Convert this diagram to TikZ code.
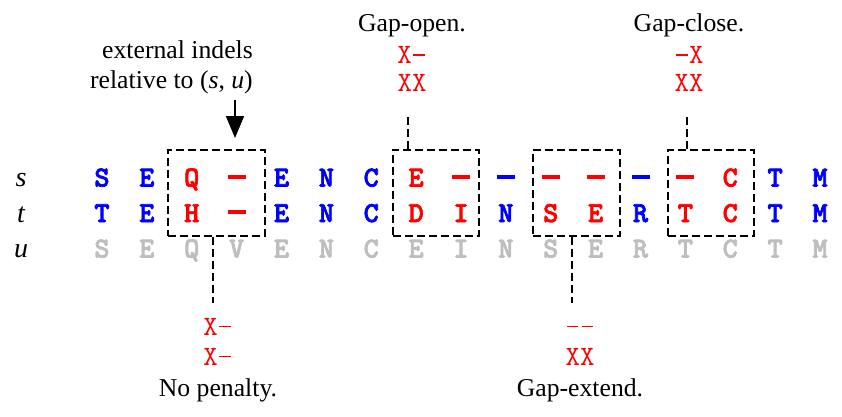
\documentclass[tikz,border=0pt]{standalone}
\usepackage{fontspec}
\setmainfont{Liberation Serif}
\newfontfamily\bmono{lmmonolt10-bold.otf}[FakeBold=2.4]
\newcommand{\seqgap}{\makebox[15.2pt]{\rule[8pt]{18pt}{3.8pt}}}
\newcommand{\pengap}{\makebox[14.7pt]{\rule[7.6pt]{11.5pt}{1.3pt}}}
\usetikzlibrary{arrows.meta}
\definecolor{seqblue}{RGB}{0,0,255}
\definecolor{seqred}{RGB}{255,0,0}
\definecolor{seqgray}{RGB}{190,190,190}
\begin{document}
\begin{tikzpicture}[x=1pt,y=-1pt,
  letter/.style={font=\bmono\fontsize{29}{29}\selectfont, inner sep=0pt, anchor=base},
  lb/.style={letter,text=seqblue},
  lr/.style={letter,text=seqred},
  lg/.style={letter,text=seqgray},
  rowlab/.style={font=\fontsize{28}{28}\selectfont\itshape, inner sep=0pt, anchor=base},
  penal/.style={font=\ttfamily\fontsize{28}{28}\selectfont, text=seqred, inner sep=0pt, anchor=base},
  caption/.style={font=\fontsize{25.7}{25.7}\selectfont, inner sep=0pt, anchor=base},
  dbox/.style={draw, dash pattern=on 8pt off 4pt, line width=2pt, inner sep=0pt},
  dline/.style={draw, dash pattern=on 8pt off 4pt, line width=2pt}]
\useasboundingbox (0,0) rectangle (842,416);
% row labels
\node[rowlab] (ls) at (21,186.5) {s};
\node[rowlab] (lt) at (21,222) {t};
\node[rowlab] (lu) at (21,257.5) {u};
% rows
\foreach \c/\st [count=\i from 0] in {S/lb,E/lb,Q/lr,\seqgap/lr,E/lb,N/lb,C/lb,E/lr,\seqgap/lr,\seqgap/lb,\seqgap/lr,\seqgap/lr,\seqgap/lb,\seqgap/lr,C/lr,T/lb,M/lb}{
  \pgfmathsetmacro\xx{102+44.875*\i}
  \node[\st] (s\i) at (\xx,186.5) {\c};
}
\foreach \c/\st [count=\i from 0] in {T/lb,E/lb,H/lr,\seqgap/lr,E/lb,N/lb,C/lb,D/lr,I/lr,N/lb,S/lr,E/lr,R/lb,T/lr,C/lr,T/lb,M/lb}{
  \pgfmathsetmacro\xx{102+44.875*\i}
  \node[\st] (t\i) at (\xx,222) {\c};
}
\foreach \c [count=\i from 0] in {S,E,Q,V,E,N,C,E,I,N,S,E,R,T,C,T,M}{
  \pgfmathsetmacro\xx{102+44.875*\i}
  \node[lg] (u\i) at (\xx,257.5) {\c};
}
% boxes
\node[dbox, minimum width=97pt, minimum height=86pt] (box1) at (216.5,192.5) {};
\node[dbox, minimum width=86.3pt, minimum height=86pt] (box2) at (435.85,192.5) {};
\node[dbox, minimum width=87pt, minimum height=86pt] (box3) at (576.5,192.5) {};
\node[dbox, minimum width=86pt, minimum height=86pt] (box4) at (711,192.5) {};
% external indels
\node[caption, anchor=base east] (ext1) at (253,58) {external indels};
\node[caption, anchor=base east] (ext2) at (253,88) {relative to (\textit{s}, \textit{u})};
\coordinate (arrtail) at (235,100);
\coordinate (arrtip) at (235,138);
\draw[line width=1.8pt, -{Triangle[width=18pt,length=22pt]}] (arrtail) -- (arrtip);
% gap-open
\node[caption] (goc) at (412,31) {Gap-open.};
\node[penal] (go1) at (412,63.3) {X\pengap};
\node[penal] (go2) at (412,91.7) {XX};
\coordinate (goe) at (408,113);
\draw[dline] (goe |- box2.north) -- (goe);
% gap-close
\node[caption] (gcc) at (689,31) {Gap-close.};
\node[penal] (gc1) at (689,63.3) {\pengap X};
\node[penal] (gc2) at (689,91.7) {XX};
\coordinate (gce) at (687,113);
\draw[dline] (gce |- box4.north) -- (gce);
% no penalty
\coordinate (npe) at (212.7,303);
\draw[dline] (npe |- box1.south) -- (npe);
\node[penal] (np1) at (218,335) {X\pengap};
\node[penal] (np2) at (218,365) {X\pengap};
\node[caption] (npc) at (218,396.7) {No penalty.};
% gap-extend
\coordinate (gee) at (572,303);
\draw[dline] (gee |- box3.south) -- (gee);
\node[penal] (ge1) at (580,335) {\pengap\pengap};
\node[penal] (ge2) at (580,365) {XX};
\node[caption] (gec) at (580,396.7) {Gap-extend.};
\end{tikzpicture}
\end{document}
